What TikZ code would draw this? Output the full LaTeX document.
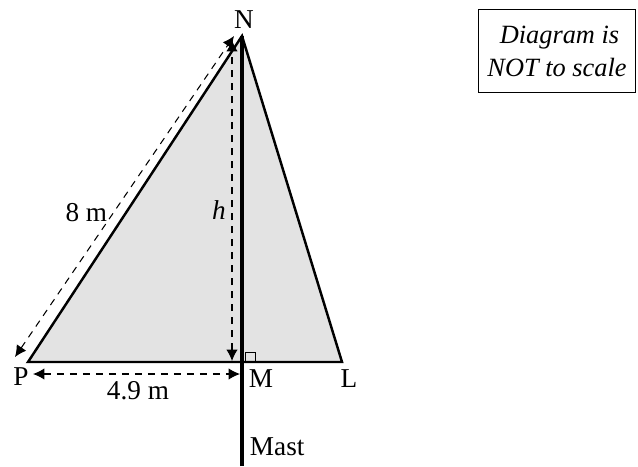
\documentclass[tikz,border=0pt]{standalone}
\usepackage{fontspec}
\setmainfont{Liberation Serif}
\usetikzlibrary{arrows.meta,positioning,calc}

\begin{document}
\begin{tikzpicture}[
    x=0.02cm, y=-0.02cm,
    font=\fontsize{15.5}{18.5}\selectfont,
    sail/.style={fill=black!11},
    edge/.style={line width=1.4pt, line join=miter},
    mast/.style={line width=2.8pt},
    measure/.style={line width=0.6pt, dash pattern=on 4pt off 3.4pt, {Latex[length=6.5pt,width=6.5pt]}-{Latex[length=6.5pt,width=6.5pt]}},
    notebox/.style={rectangle, draw, line width=0.6pt, align=center, font=\fontsize{15}{18.7}\selectfont\itshape, minimum width=3.14cm, minimum height=1.66cm}
]
    \useasboundingbox (0,0) rectangle (638,466);

    % points of the sail
    \coordinate (P) at (28,362);
    \coordinate (N) at (242,36);
    \coordinate (L) at (342,362);
    \coordinate (M) at (242,362);
    \coordinate (foot) at (242,466);

    \fill[sail] (P) -- (N) -- (L) -- cycle;
    \draw[edge] (P) -- (N) -- (L) -- cycle;
    \draw[mast] (foot) -- (N);
    \draw[line width=0.5pt] ($(M)+(3,0)$) |- ($(M)+(13,-10)$) -- ($(M)+(13,0)$);

    % measurements
    \coordinate (slant-lo) at (15,357);
    \coordinate (slant-hi) at (234,36);
    \coordinate (height-lo) at (232,361);
    \coordinate (height-hi) at (232,40);
    \coordinate (base-lo) at (33,374);
    \coordinate (base-hi) at (240,374);

    \draw[measure] (slant-lo) -- node[pos=0.45, left=0pt] {8 m} (slant-hi);
    \draw[measure] (height-lo) -- node[pos=0.47, left=0pt] {\textit{h}} (height-hi);
    \draw[measure] (base-lo) -- (base-hi);

    % labels
    \node (labelN) at (244,20) {N};
    \node (labelP) at (21,377) {P};
    \node (labelM) at (261,379) {M};
    \node (labelL) at (349,379) {L};
    \node (labelbase) at (138,391) {4.9 m};
    \node[right=1pt of foot, anchor=west, yshift=0.38cm] (labelmast) {Mast};
    \node[notebox] (note) at (557,51) {\hspace*{0.1cm}Diagram is\\NOT to scale};
\end{tikzpicture}
\end{document}
